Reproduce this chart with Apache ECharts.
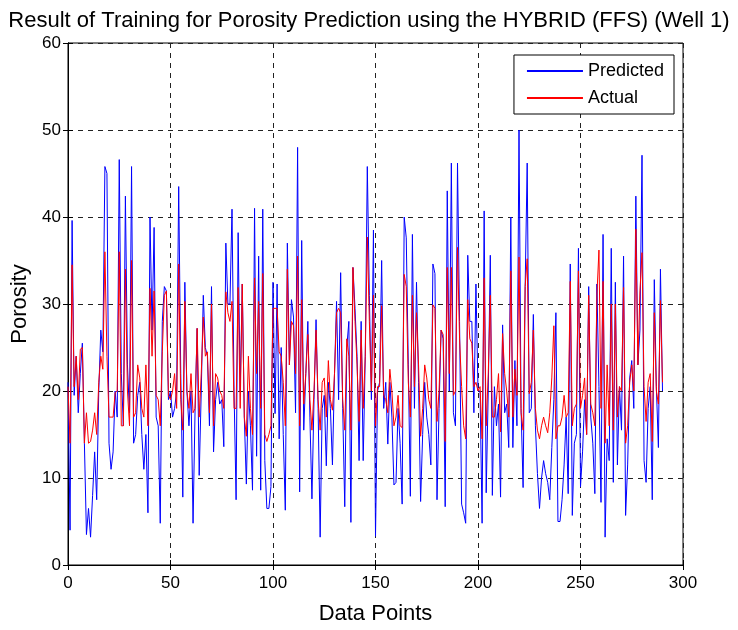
<!DOCTYPE html>
<html><head><meta charset="utf-8">
<script src="https://cdn.jsdelivr.net/npm/echarts@6/dist/echarts.min.js"></script>
<style>html,body{margin:0;padding:0;background:#fff}#c{width:738px;height:630px}</style>
</head><body><div id="c"></div>
<script>
const title = "Result of Training for Porosity Prediction using the HYBRID (FFS) (Well 1)";
const xTicks = [0, 50, 100, 150, 200, 250, 300];
const yTicks = [0, 10, 20, 30, 40, 50, 60];
const predicted = [
21,4,39.6,19.5,24,17.5,22,25.5,14,3.5,6.5,3.2,8,13,7.5,20,27,24.5,45.8,45,
14,11,13,20,17,46.6,22,16,42.4,23,17.5,45.8,14,15,19.5,21,15,11,15,6,
40,27,38.8,17,16,4.8,28,32,31.5,19,20,17,18,20,43.5,22,7.8,32.5,20,16,
20,4.8,18,27.2,10.3,20,31,25,24,16,32,13,19,21,18.5,19,13.6,37,30,30,
40.9,20,7.5,38.2,20,32.3,17,9.3,20,16,8.6,41,12.5,35.5,8.6,40.9,12,6.5,6.5,9,
32.5,17.4,32.3,14.5,25,15,6.3,37,23,30.5,28.5,17.5,48,8.4,37.3,15.5,22,28,17,7.6,
19,28.2,18,3.2,18,19.5,11.4,21,18,11.5,22,30.3,19,33.6,18,6.7,25,28,4.9,34.2,
29.5,24,12,28,12,24,45.8,31,19,38.5,3.3,20,21,35,18,21,13.9,21,17,9.2,
9.5,18,14,7,40,37.6,23,7.9,38,18,32.5,21,7.3,15,21,17,15,11.5,34.6,33.5,
7.5,18,27,26,6.7,43,20,46.2,17.5,16,46.2,28,7,6,4.8,35.6,28,28,17.5,32.3,
20,20,4.8,40.7,8.3,20,35.6,8,20.5,16,18.5,7.8,27.6,17.5,18.5,13.5,40,13.5,23.5,16,
50,18,8.9,32,46.2,17.5,18,28.8,16,10.5,6.5,10,12,10.5,9.5,7.5,13.5,19,29,5,
5,7.5,11.5,17,8.2,34.6,5.7,14,15,36.4,9,13,19,15,32,17,14,8.2,32.3,20.5,
7.2,38,3.2,14.5,12,36.4,9.5,32.5,11.5,20.5,15.5,35.5,5.7,11.5,21.5,23.5,18,42.4,23,27,
47.1,12,9.5,18,20.5,7.5,32.8,20.5,13.5,34,20
];
const actual = [
20.5,14,34.5,20.5,24,19,24.8,25,14,17.5,14,14.2,15.5,17.5,15,21,24,22.5,36,24,
17,17,17,19.8,20,36,16,16,34,20,16,35,17,17.5,23,21.5,18,17,23,16,
31.8,24,31.5,19.5,19,16,24.5,31,31.5,19.5,19,20,22,18,34.6,19,15.5,30.3,20,18,
22,17.5,18,27.2,17,22,28.5,24,24.5,17.5,30,16,22,21.5,20,19.5,18,31.4,29,28,
30.3,18,18,31.9,18,32.3,17,14.8,24,18,15,33,22,30.3,18,33.5,15,14.2,15,16,
29.5,29.5,29.5,24.5,24,21,16,34,23,28,27.5,22,35.5,16,30.5,18.5,22,26.5,19,15.5,
20,27,19,15.5,21,21.5,17,23.5,19,17.8,22,29,29.5,29,19,15.5,26,24,15.5,34.2,
28,23,16.5,27,18,24,37.7,28,20,31,16,20.5,20.5,29.8,19.5,19,17.5,22.5,20,16,
17,19.5,16,15.8,33.4,32,21,17,31,20.5,29,23,14.8,18,23,21.5,19,18,29.9,29.5,
16.5,20,27,26.5,14.2,34.2,22,34.2,19.5,20,36.5,26,20.5,16,14.5,30.5,26,25.5,20.5,21,
20,20.5,14.5,33,16,22,31,17,17,19,22,15.3,26.6,22,20,17,33.8,17,22.5,19.5,
35.4,17.5,15.5,32,35.2,19.7,21,27,18,15.5,14.5,16,17,16,15.2,17.5,21.5,27.5,14.5,16,
16,17,19.5,17,17.5,32.6,16,18,18.5,33.8,18,19.5,21.5,15,31,18.5,17.5,16,31,36.2,
18,32.6,14,23,16,30,15.5,30,17,20.5,20,31.9,14,16,21,23,20,38.6,23,31.5,
35.9,20.5,16.5,21,22,14.2,29,20,18.5,30.4,21
];
const pts = arr => arr.map((v, i) => [i, v]);
const chart = echarts.init(document.getElementById('c'), null, {renderer: 'canvas'});
const font = 'Liberation Sans, Arial, sans-serif';
const axisCommon = {
  axisLine: {show: true, lineStyle: {color: '#000', width: 1}},
  axisTick: {show: true, inside: true, length: 5, lineStyle: {color: '#000'}},
  splitLine: {show: true, lineStyle: {color: '#222', type: [5, 5], width: 1}}
};
chart.setOption({
  animation: false,
  backgroundColor: '#fff',
  textStyle: {fontFamily: font},
  title: {text: title, left: 'center', top: 5,
    textStyle: {fontSize: 22, fontWeight: 'normal', color: '#000', fontFamily: font}},
  grid: {left: 68, right: 55, top: 43, bottom: 62, show: true, borderColor: '#000', borderWidth: 1, backgroundColor: 'transparent'},
  legend: {
    orient: 'vertical', right: 64, top: 55, itemGap: 9, itemWidth: 56, itemHeight: 2,
    padding: [7, 10, 7, 13], borderColor: '#000', borderWidth: 1, backgroundColor: '#fff',
    textStyle: {fontSize: 18, color: '#000', fontFamily: font},
    data: [{name: 'Predicted', icon: 'rect'}, {name: 'Actual', icon: 'rect'}]
  },
  xAxis: [Object.assign({
    type: 'value', min: xTicks[0], max: xTicks[xTicks.length - 1], interval: 50,
    name: 'Data Points', nameLocation: 'middle', nameGap: 38,
    nameTextStyle: {fontSize: 22, color: '#000', fontFamily: font},
    axisLabel: {fontSize: 17, color: '#000', margin: 10, fontFamily: font}
  }, axisCommon),
  Object.assign({type: 'value', position: 'top', min: 0, max: 300, interval: 50,
    axisLabel: {show: false}}, axisCommon, {splitLine: {show: false}})],
  yAxis: [Object.assign({
    type: 'value', min: yTicks[0], max: yTicks[yTicks.length - 1], interval: 10,
    name: 'Porosity', nameLocation: 'middle', nameGap: 34,
    nameTextStyle: {fontSize: 22, color: '#000', fontFamily: font},
    axisLabel: {fontSize: 17, color: '#000', margin: 7, fontFamily: font}
  }, axisCommon),
  Object.assign({type: 'value', position: 'right', min: 0, max: 60, interval: 10,
    axisLabel: {show: false}}, axisCommon, {splitLine: {show: false}})],
  series: [
    {name: 'Predicted', type: 'line', data: pts(predicted), showSymbol: false, symbol: 'none',
      lineStyle: {color: '#0000ff', width: 1}, itemStyle: {color: '#0000ff'}},
    {name: 'Actual', type: 'line', data: pts(actual), showSymbol: false, symbol: 'none',
      lineStyle: {color: '#ff0000', width: 1}, itemStyle: {color: '#ff0000'}}
  ]
});
</script></body></html>
